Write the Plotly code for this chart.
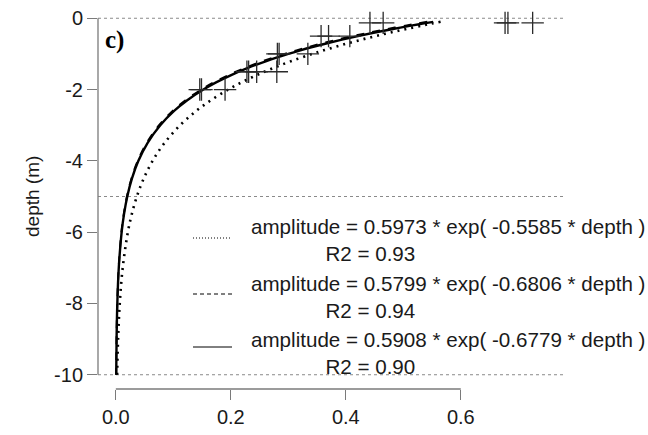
import math
import plotly.graph_objects as go

# ---------------- data ----------------
# observed amplitudes (x) and depths (m, positive downward)
amp_obs = [0.146, 0.149, 0.190, 0.228, 0.231, 0.245, 0.280, 0.281, 0.284, 0.334,
           0.357, 0.370, 0.407, 0.442, 0.465, 0.677, 0.682, 0.725]
depth_obs = [2.0, 2.0, 2.0, 1.5, 1.5, 1.5, 1.5, 1.0, 1.0, 1.0,
             0.5, 0.5, 0.5, 0.13, 0.13, 0.13, 0.13, 0.13]

# fitted models shown in the legend: amplitude = a * exp(-k * depth)
fit_a = [0.5973, 0.5799, 0.5908]
fit_k = [0.5585, 0.6806, 0.6779]
fit_r2 = ["0.93", "0.94", "0.90"]
fit_depths = [0.1, 0.15, 0.2, 0.3, 0.4, 0.5, 0.6, 0.7, 0.8, 0.9, 1.0, 1.2, 1.4, 1.6,
              1.8, 2.0, 2.3, 2.6, 3.0, 3.5, 4.0, 4.5, 5.0, 5.5, 6.0, 7.0, 8.0, 9.0, 10.0]

ref_depths = [0, -5, -10]
x_ticks = [0.0, 0.2, 0.4, 0.6]
x_tick_labels = ["0.0", "0.2", "0.4", "0.6"]
y_ticks = [0, -2, -4, -6, -8, -10]
y_tick_labels = ["0", "-2", "-4", "-6", "-8", "-10"]

# ---------------- styles ----------------
W, H = 648, 435
ML, MR, MT, MB = 98, 82, 4, 46
PW, PH = W - ML - MR, H - MT - MB
AX = "#7a7a7a"
TXT = "#1a1a1a"
SANS = "Liberation Sans"
FS = 20
LFS = 20.6
curve_dash = ["2px,5px", "8px,8px", "solid"]
curve_width = [2.6, 2.0, 2.4]
legend_dash = ["1px,2px", "4px,3px", "solid"]


def px(x):
    return (x - ML) / PW


def py(y):
    return (H - MB - y) / PH


fig = go.Figure()

for a, k, dsh, lw in zip(fit_a, fit_k, curve_dash, curve_width):
    amps = [a * math.exp(-k * d) for d in fit_depths]
    fig.add_trace(go.Scatter(
        x=amps, y=[-d for d in fit_depths], mode="lines",
        line=dict(color="black", width=lw, dash=dsh, shape="spline"),
        showlegend=False, hoverinfo="skip"))

fig.add_trace(go.Scatter(
    x=amp_obs, y=[-d for d in depth_obs], mode="markers",
    marker=dict(symbol="cross-thin-open", size=16, color="#2a2a2a",
                line=dict(color="#2a2a2a", width=1.3)),
    showlegend=False, cliponaxis=False))

shapes = []
for d in ref_depths:
    shapes.append(dict(type="line", xref="paper", x0=0, x1=1, yref="y", y0=d, y1=d,
                       line=dict(color="#8a8a8a", width=1, dash="dot"), layer="below"))
# R-style axis lines spanning only the tick range
shapes.append(dict(type="line", xref="x", x0=x_ticks[0], x1=x_ticks[-1], yref="paper",
                   y0=0, y1=0, line=dict(color=AX, width=1.3)))
shapes.append(dict(type="line", xref="paper", x0=0, x1=0, yref="y",
                   y0=y_ticks[-1], y1=y_ticks[0], line=dict(color=AX, width=1.3)))

# legend
leg_line_y = [238, 294, 347]
leg_block_y = [240, 297, 353]
annotations = []
pad = "&nbsp;" * 13
for i in range(3):
    shapes.append(dict(type="line", xref="paper", yref="paper",
                       x0=px(193), x1=px(232), y0=py(leg_line_y[i]), y1=py(leg_line_y[i]),
                       line=dict(color="black", width=1, dash=legend_dash[i])))
    annotations.append(dict(
        xref="paper", yref="paper", x=px(249), y=py(leg_block_y[i]),
        xanchor="left", yanchor="middle", align="left", showarrow=False,
        text=(f"amplitude = {fit_a[i]:.4f} * exp( -{fit_k[i]:.4f} * depth )"
              f"<br>{pad}R2 = {fit_r2[i]}"),
        font=dict(family=SANS, size=LFS, color=TXT)))

annotations.append(dict(xref="paper", yref="paper", x=px(103), y=py(40),
                        xanchor="left", yanchor="middle", showarrow=False,
                        text="<b>c)</b>",
                        font=dict(family="Liberation Serif", size=25, color="black")))
annotations.append(dict(xref="paper", yref="paper", x=px(32), y=py(197),
                        xanchor="center", yanchor="middle", showarrow=False,
                        textangle=-90, text="depth (m)",
                        font=dict(family=SANS, size=19, color=TXT)))

fig.update_layout(
    width=W, height=H,
    margin=dict(l=ML, r=MR, t=MT, b=MB),
    paper_bgcolor="white", plot_bgcolor="white",
    shapes=shapes, annotations=annotations,
    xaxis=dict(range=[-0.031, 0.783], tickvals=x_ticks, ticktext=x_tick_labels,
               ticks="outside", ticklen=10, tickwidth=1.3, tickcolor=AX,
               showline=False, showgrid=False, zeroline=False,
               tickfont=dict(family=SANS, size=FS, color=TXT)),
    yaxis=dict(range=[-10.4, 0.4], tickvals=y_ticks, ticktext=y_tick_labels,
               ticks="outside", ticklen=10, tickwidth=1.3, tickcolor=AX,
               showline=False, showgrid=False, zeroline=False,
               tickfont=dict(family=SANS, size=FS, color=TXT)),
)

fig.write_html("out.html")
